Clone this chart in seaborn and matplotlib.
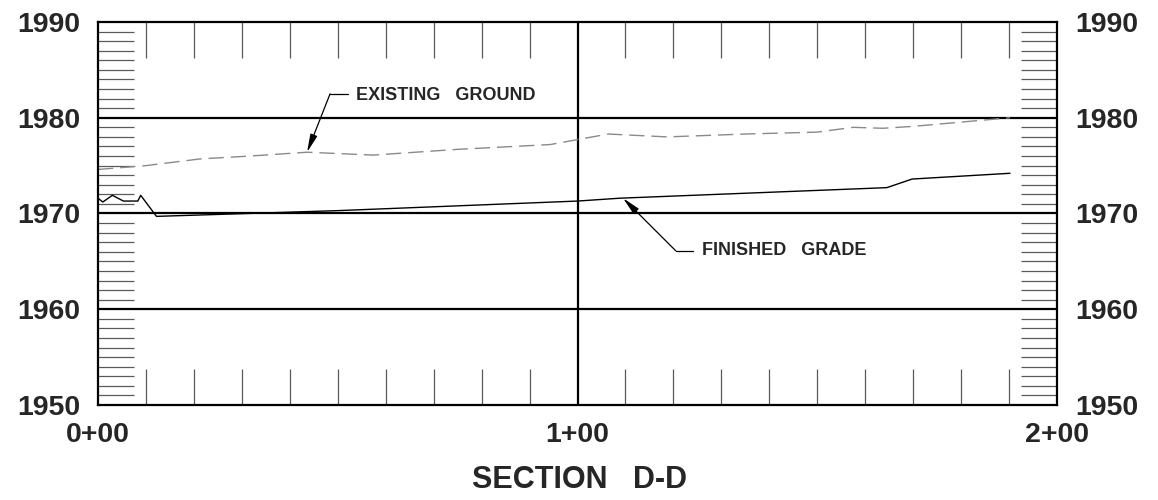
import matplotlib
matplotlib.use("Agg")
import matplotlib.pyplot as plt
from matplotlib.ticker import MultipleLocator, FixedLocator
import seaborn as sns
import pandas as pd

# Profile data (station in feet, elevation in feet)
existing_sta = [0, 10, 21.3, 31.7, 43.6, 57.4, 75, 94.3, 106.4, 118.7, 135, 150, 157.5, 163.7, 170, 190.2]
existing_elev = [1974.6, 1975.0, 1975.7, 1976.0, 1976.4, 1976.1, 1976.7, 1977.2, 1978.3, 1978.0,
                 1978.3, 1978.5, 1979.0, 1978.9, 1979.1, 1980.0]

finished_sta = [0, 1.0, 3.0, 5.3, 8.3, 8.9, 12.2, 50, 100, 108.9, 164.5, 169.8, 190.2]
finished_elev = [1971.6, 1971.2, 1971.9, 1971.3, 1971.3, 1971.9, 1969.7, 1970.3, 1971.3, 1971.6,
                 1972.7, 1973.6, 1974.2]

station_ticks = [0, 100, 200]
station_labels = ["0+00", "1+00", "2+00"]
elev_ticks = [1950, 1960, 1970, 1980, 1990]
grid_elevs = [1960, 1970, 1980]
grid_stations = [100]

title = "SECTION   D-D"

# Callout leaders: arrow tip, knee, end of horizontal leg
eg_label = "EXISTING   GROUND"
eg_tip, eg_knee, eg_end = (43.6, 1976.4), (48.4, 1982.5), (52.1, 1982.5)
fg_label = "FINISHED   GRADE"
fg_tip, fg_knee, fg_end = (109.5, 1971.6), (120.5, 1966.1), (124.1, 1966.1)

sns.set_theme(style="white")
plt.rcParams["font.family"] = ["Liberation Sans", "DejaVu Sans"]
plt.rcParams["font.weight"] = "bold"

fig = plt.figure(figsize=(11.58, 5.0), dpi=100)
ax = fig.add_axes([98 / 1158, 95 / 500, 959 / 1158, 383 / 500])

df_eg = pd.DataFrame({"station": existing_sta, "elev": existing_elev})
df_fg = pd.DataFrame({"station": finished_sta, "elev": finished_elev})

sns.lineplot(data=df_eg, x="station", y="elev", ax=ax, color="#8a8a8a", lw=1.0,
             dashes=False, sort=False)
ax.lines[-1].set_dashes((11, 5))
sns.lineplot(data=df_fg, x="station", y="elev", ax=ax, color="black", lw=1.0, sort=False)

# Grid lines
for e in grid_elevs:
    ax.axhline(e, color="black", lw=1.6, zorder=1)
for s in grid_stations:
    ax.axvline(s, color="black", lw=1.6, zorder=1)

ax.set_xlim(0, 200)
ax.set_ylim(1950, 1990)

# Major ticks carry labels only
ax.xaxis.set_major_locator(FixedLocator(station_ticks))
ax.set_xticklabels(station_labels)
ax.yaxis.set_major_locator(FixedLocator(elev_ticks))
ax.set_yticklabels([str(v) for v in elev_ticks])
ax.tick_params(axis="both", which="major", length=0, labelsize=20.5)
ax.tick_params(axis="x", which="major", pad=12)
ax.tick_params(axis="y", which="major", pad=13, left=True, right=True,
               labelleft=True, labelright=True)
for lab in ax.get_xticklabels() + ax.get_yticklabels():
    lab.set_fontweight("bold")

# Inward minor ticks on all four sides
ax.xaxis.set_minor_locator(MultipleLocator(10))
ax.yaxis.set_minor_locator(MultipleLocator(1))
ax.tick_params(axis="both", which="minor", direction="in", length=26, width=0.9,
               color="#5a5a5a", top=True, bottom=True, left=True, right=True)

for sp in ax.spines.values():
    sp.set_visible(True)
    sp.set_color("black")
    sp.set_linewidth(1.6)

ax.set_xlabel("")
ax.set_ylabel("")

# Callouts
arrow_kw = dict(arrowstyle="-|>,head_length=0.9,head_width=0.18", color="black",
                lw=0.9, shrinkA=0, shrinkB=0)
ax.annotate("", xy=eg_tip, xytext=eg_knee, arrowprops=arrow_kw)
ax.plot([eg_knee[0], eg_end[0]], [eg_knee[1], eg_end[1]], color="black", lw=0.9)
ax.text(eg_end[0] + 1.7, eg_end[1] - 0.15, eg_label, fontsize=13, fontweight="bold",
        va="center", ha="left")

ax.annotate("", xy=fg_tip, xytext=fg_knee, arrowprops=arrow_kw)
ax.plot([fg_knee[0], fg_end[0]], [fg_knee[1], fg_end[1]], color="black", lw=0.9)
ax.text(fg_end[0] + 1.9, fg_end[1], fg_label, fontsize=13, fontweight="bold",
        va="center", ha="left")

fig.text(580 / 1158, 1 - 480 / 500, title, fontsize=22, fontweight="bold",
         ha="center", va="center")

fig.savefig("out.png", dpi=100, facecolor="white")
